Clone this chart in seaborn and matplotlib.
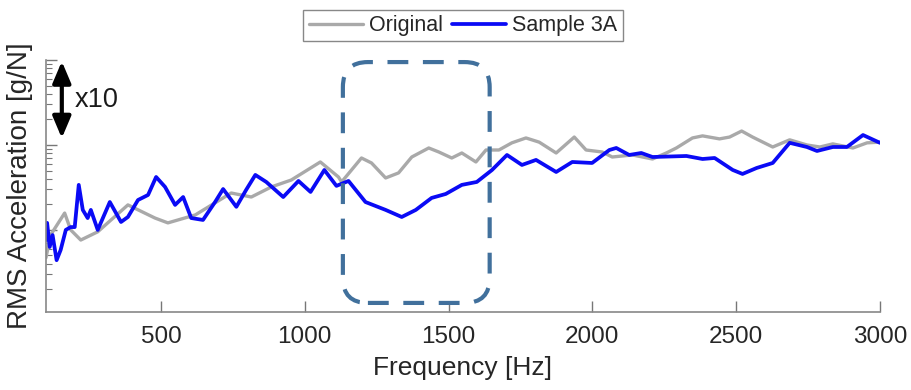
import numpy as np
import pandas as pd
import matplotlib
matplotlib.use("Agg")
import matplotlib.pyplot as plt
import seaborn as sns
from matplotlib.patches import FancyBboxPatch, FancyArrowPatch
from matplotlib.ticker import LogLocator, NullFormatter, FixedLocator

# ---------------- data ----------------
orig_freq = [100, 116, 165, 186, 221, 280, 385, 479, 524, 619, 744, 814, 884, 953,
             1054, 1117, 1128, 1197, 1232, 1281, 1326, 1372, 1431, 1466, 1511, 1546,
             1595, 1630, 1675, 1720, 1769, 1815, 1874, 1937, 1978, 2034, 2069, 2139,
             2209, 2257, 2292, 2348, 2383, 2442, 2477, 2519, 2557, 2627, 2686, 2746,
             2791, 2836, 2906, 2955, 3000]
orig_rms = [0.047, 0.087, 0.158, 0.10, 0.076, 0.095, 0.197, 0.138, 0.121, 0.150,
            0.272, 0.244, 0.321, 0.387, 0.631, 0.42, 0.367, 0.703, 0.614, 0.409,
            0.469, 0.722, 0.922, 0.827, 0.703, 0.805, 0.631, 0.873, 0.873, 1.06,
            1.21, 1.08, 0.805, 1.24, 0.873, 0.827, 0.722, 0.763, 0.684, 0.805,
            0.922, 1.21, 1.28, 1.18, 1.24, 1.46, 1.24, 0.947, 1.15, 1.0,
            0.947, 1.03, 0.922, 1.06, 1.08]

s3a_freq = [100, 104, 113, 123, 137, 151, 169, 186, 200, 214, 228, 245, 256, 280,
            322, 361, 385, 420, 455, 483, 514, 549, 577, 605, 646, 688, 716, 762,
            796, 828, 866, 925, 978, 1020, 1068, 1110, 1152, 1211, 1281, 1337, 1386,
            1441, 1490, 1546, 1598, 1651, 1703, 1755, 1804, 1874, 1930, 1999, 2059,
            2083, 2128, 2170, 2209, 2327, 2383, 2425, 2488, 2522, 2571, 2627, 2686,
            2746, 2781, 2836, 2885, 2941, 3000]
s3a_rms = [0.076, 0.121, 0.063, 0.087, 0.044, 0.058, 0.10, 0.108, 0.108, 0.339,
           0.172, 0.138, 0.172, 0.10, 0.213, 0.124, 0.142, 0.225, 0.258, 0.42,
           0.321, 0.197, 0.244, 0.138, 0.131, 0.213, 0.303, 0.187, 0.296, 0.444,
           0.367, 0.244, 0.377, 0.28, 0.508, 0.33, 0.377, 0.213, 0.172, 0.142,
           0.172, 0.238, 0.265, 0.339, 0.367, 0.508, 0.763, 0.582, 0.667, 0.481,
           0.631, 0.614, 0.873, 0.922, 0.763, 0.805, 0.722, 0.742, 0.684, 0.703,
           0.508, 0.456, 0.536, 0.614, 1.06, 0.947, 0.85, 0.947, 0.947, 1.31, 1.06]

x_ticks = [500, 1000, 1500, 2000, 2500, 3000]
series_names = ["Original", "Sample 3A"]

# ---------------- style ----------------
sns.set_style("ticks")
plt.rcParams['font.family'] = ['Liberation Sans', 'DejaVu Sans']

fig = plt.figure(figsize=(9.12, 3.9), dpi=100)
ax = fig.add_axes([0.0504, 0.2, 0.9145, 0.646])

df_o = pd.DataFrame({"Frequency": orig_freq, "RMS": orig_rms})
df_s = pd.DataFrame({"Frequency": s3a_freq, "RMS": s3a_rms})

sns.lineplot(data=df_o, x="Frequency", y="RMS", ax=ax, color="#a9a9a9",
             lw=2.4, label=series_names[0])
sns.lineplot(data=df_s, x="Frequency", y="RMS", ax=ax, color="#0a0af5",
             lw=2.7, label=series_names[1])

ax.set_yscale("log")
ax.set_xlim(100, 3000)
ax.set_ylim(0.0108, 10)

ax.xaxis.set_major_locator(FixedLocator(x_ticks))
ax.set_xticklabels([str(t) for t in x_ticks])
ax.yaxis.set_major_locator(LogLocator(base=10, numticks=10))
ax.yaxis.set_minor_locator(LogLocator(base=10, subs=np.arange(2, 10), numticks=20))
ax.yaxis.set_major_formatter(NullFormatter())
ax.yaxis.set_minor_formatter(NullFormatter())

for s in ["top", "right"]:
    ax.spines[s].set_visible(False)
for s in ["left", "bottom"]:
    ax.spines[s].set_color("#888888")
    ax.spines[s].set_linewidth(1.2)

ax.tick_params(axis="x", direction="in", length=8, width=1, color="#777777",
               labelsize=17.5, labelcolor="#262626", pad=10)
ax.tick_params(axis="y", which="major", direction="in", length=8, width=1, color="#777777")
ax.tick_params(axis="y", which="minor", direction="in", length=4, width=0.8, color="#777777")

ax.set_xlabel("Frequency [Hz]", fontsize=19, color="#262626", labelpad=6)
ax.set_ylabel("RMS Acceleration [g/N]", fontsize=20, color="#262626", labelpad=6)

# legend
leg = ax.legend(loc="upper center", bbox_to_anchor=(0.5, 1.2), ncol=2,
                fontsize=15.5, frameon=True, fancybox=False, handlelength=2.5,
                handletextpad=0.3, columnspacing=0.4, borderpad=0.25,
                borderaxespad=0)
leg.get_frame().set_edgecolor("#888888")
leg.get_frame().set_linewidth(1.0)
leg.get_frame().set_alpha(1)

# dashed rounded box highlighting region
box = FancyBboxPatch((0.356, 0.036), 0.176, 0.956,
                     boxstyle="round,pad=0,rounding_size=0.03",
                     mutation_aspect=834 / 252,
                     transform=ax.transAxes, fill=False, edgecolor="#41709c",
                     lw=3.0, linestyle=(0, (5, 3.5)), clip_on=False, zorder=5)
ax.add_patch(box)

# x10 arrow
arr = FancyArrowPatch((0.019, 0.995), (0.019, 0.69), transform=ax.transAxes,
                      arrowstyle="<|-|>,head_width=0.55,head_length=1.3",
                      mutation_scale=10, lw=3, color="black", clip_on=False,
                      shrinkA=0, shrinkB=0, zorder=6)
ax.add_patch(arr)
ax.text(0.035, 0.84, "x10", transform=ax.transAxes, fontsize=19.5,
        va="center", ha="left", color="#1a1a1a")

fig.savefig("out.png", dpi=100)
